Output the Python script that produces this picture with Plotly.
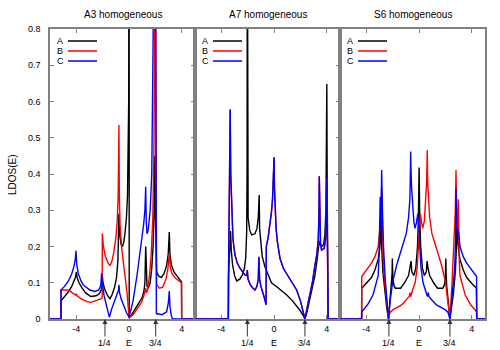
import plotly.graph_objects as go
from plotly.subplots import make_subplots

# ---------------- data (energy E, LDOS) ----------------
A3_A = [(-6, 0), (-5.17, 0), (-5.165, 0.05), (-4.9, 0.062), (-4.6, 0.075), (-4.35, 0.09), (-4.18, 0.103),
        (-4.07, 0.115), (-4.0, 0.13), (-3.94, 0.114), (-3.8, 0.1), (-3.6, 0.087), (-3.3, 0.072),
        (-2.9, 0.062), (-2.5, 0.064), (-2.25, 0.07), (-2.12, 0.08), (-2.05, 0.095), (-2.03, 0.12),
        (-1.98, 0.1), (-1.85, 0.082), (-1.65, 0.066), (-1.45, 0.056), (-1.3, 0.066), (-1.1, 0.088),
        (-0.95, 0.115), (-0.85, 0.16), (-0.79, 0.22), (-0.77, 0.29), (-0.74, 0.24), (-0.68, 0.218),
        (-0.6, 0.205), (-0.5, 0.2), (-0.4, 0.213), (-0.3, 0.24), (-0.2, 0.28), (-0.12, 0.34),
        (-0.07, 0.43), (-0.03, 0.6), (0.0, 1.5), (0.01, 0.003), (0.2, 0.012), (0.5, 0.03), (0.8, 0.047),
        (1.0, 0.06), (1.12, 0.075), (1.2, 0.1), (1.26, 0.2), (1.3, 0.12), (1.36, 0.09), (1.45, 0.085),
        (1.6, 0.1), (1.72, 0.14), (1.82, 0.2), (1.9, 0.3), (1.95, 0.45), (2.0, 0.28), (2.05, 0.16),
        (2.09, 0.13), (2.25, 0.118), (2.45, 0.115), (2.65, 0.125), (2.85, 0.148), (2.97, 0.18),
        (3.05, 0.24), (3.1, 0.18), (3.2, 0.15), (3.4, 0.13), (3.7, 0.115), (3.98, 0.102), (3.99, 0),
        (5, 0)]
A3_B = [(-6, 0), (-5.17, 0), (-5.165, 0.08), (-4.6, 0.08), (-4.3, 0.072), (-4.05, 0.066), (-4.0, 0.068),
        (-3.95, 0.064), (-3.6, 0.055), (-3.2, 0.048), (-2.9, 0.046), (-2.5, 0.05), (-2.1, 0.056),
        (-2.04, 0.06), (-2.03, 0.236), (-1.95, 0.2), (-1.8, 0.173), (-1.6, 0.155), (-1.45, 0.147),
        (-1.3, 0.16), (-1.15, 0.185), (-1.0, 0.225), (-0.9, 0.27), (-0.83, 0.34), (-0.79, 0.43),
        (-0.77, 0.535), (-0.74, 0.34), (-0.68, 0.255), (-0.56, 0.195), (-0.42, 0.155), (-0.3, 0.12),
        (-0.15, 0.07), (-0.07, 0.035), (0.0, 0.003), (0.3, 0.012), (0.6, 0.028), (0.97, 0.048),
        (1.15, 0.068), (1.22, 0.078), (1.26, 0.085), (1.31, 0.072), (1.4, 0.08), (1.55, 0.12),
        (1.68, 0.18), (1.8, 0.28), (1.88, 0.45), (1.94, 0.75), (2.0, 1.2), (2.04, 0.5), (2.06, 0.2),
        (2.09, 0.095), (2.3, 0.085), (2.55, 0.088), (2.8, 0.11), (2.95, 0.14), (3.05, 0.181),
        (3.12, 0.145), (3.25, 0.125), (3.5, 0.113), (3.97, 0.1), (3.99, 0), (5, 0)]
A3_C = [(-6, 0), (-5.17, 0), (-5.165, 0.08), (-4.9, 0.09), (-4.6, 0.105), (-4.35, 0.125), (-4.18, 0.145),
        (-4.08, 0.165), (-4.03, 0.188), (-3.97, 0.15), (-3.85, 0.125), (-3.65, 0.105), (-3.47, 0.094),
        (-3.2, 0.085), (-2.97, 0.08), (-2.6, 0.076), (-2.3, 0.08), (-2.15, 0.092), (-2.08, 0.126),
        (-2.02, 0.095), (-1.9, 0.065), (-1.7, 0.035), (-1.5, 0.005), (-1.3, 0.03), (-1.1, 0.05),
        (-0.9, 0.068), (-0.8, 0.08), (-0.77, 0.094), (-0.72, 0.072), (-0.6, 0.055), (-0.4, 0.035),
        (-0.2, 0.018), (0.0, 0.005), (0.15, 0.025), (0.3, 0.05), (0.6, 0.12), (0.9, 0.2), (1.1, 0.26),
        (1.2, 0.3), (1.26, 0.365), (1.3, 0.27), (1.36, 0.235), (1.45, 0.245), (1.6, 0.3), (1.72, 0.4),
        (1.83, 0.6), (1.92, 0.9), (1.97, 1.3), (2.04, 0.6), (2.07, 0.015), (2.5, 0.012), (2.85, 0.02),
        (2.98, 0.045), (3.05, 0.077), (3.1, 0.035), (3.2, 0.01), (3.3, 0.0), (5, 0)]

A7_A = [(-6, 0), (-3.47, 0), (-3.46, 0.12), (-3.4, 0.17), (-3.34, 0.21), (-3.3, 0.243), (-3.25, 0.19),
        (-3.15, 0.15), (-3.0, 0.12), (-2.84, 0.105), (-2.6, 0.11), (-2.4, 0.122), (-2.25, 0.14),
        (-2.15, 0.17), (-2.08, 0.24), (-2.05, 0.4), (-2.03, 1.2), (-2.01, 0.4), (-1.97, 0.28),
        (-1.85, 0.245), (-1.7, 0.232), (-1.45, 0.235), (-1.3, 0.25), (-1.2, 0.28), (-1.15, 0.31),
        (-1.13, 0.342), (-1.1, 0.25), (-1.0, 0.2), (-0.9, 0.172), (-0.7, 0.145), (-0.55, 0.13),
        (-0.2, 0.1), (0.2, 0.089), (0.6, 0.077), (0.96, 0.066), (1.4, 0.05), (1.71, 0.037), (2.0, 0.022),
        (2.2, 0.01), (2.34, 0.0), (2.5, 0.02), (2.72, 0.056), (2.9, 0.085), (3.1, 0.12), (3.25, 0.16),
        (3.35, 0.2), (3.43, 0.215), (3.5, 0.205), (3.6, 0.2), (3.75, 0.205), (3.85, 0.23), (3.93, 0.3),
        (3.97, 0.42), (4.0, 0.648), (4.03, 0.35), (4.07, 0.2), (4.1, 0), (5, 0)]
A7_C = [(-6, 0), (-3.47, 0), (-3.45, 0.15), (-3.4, 0.3), (-3.36, 0.42), (-3.33, 0.578), (-3.29, 0.4),
        (-3.22, 0.306), (-3.12, 0.22), (-2.97, 0.177), (-2.8, 0.155), (-2.59, 0.14), (-2.4, 0.13),
        (-2.2, 0.121), (-2.08, 0.12), (-2.03, 0.135), (-1.98, 0.11), (-1.8, 0.094), (-1.6, 0.085),
        (-1.45, 0.08), (-1.3, 0.09), (-1.2, 0.11), (-1.15, 0.172), (-1.1, 0.11), (-1.0, 0.09),
        (-0.9, 0.08), (-0.75, 0.06), (-0.61, 0.039), (-0.59, 0.2), (-0.45, 0.225), (-0.31, 0.26),
        (-0.2, 0.295), (-0.12, 0.33), (-0.06, 0.38), (-0.02, 0.43), (0.0, 0.446), (0.03, 0.36),
        (0.07, 0.305), (0.15, 0.25), (0.25, 0.213), (0.45, 0.167), (0.7, 0.14), (1.0, 0.122),
        (1.2, 0.113), (1.5, 0.095), (1.71, 0.08), (2.0, 0.05), (2.2, 0.02), (2.34, 0.0), (2.5, 0.03),
        (2.72, 0.066), (2.9, 0.1), (3.1, 0.149), (3.25, 0.18), (3.35, 0.22), (3.4, 0.28), (3.43, 0.394),
        (3.46, 0.26), (3.52, 0.21), (3.6, 0.19), (3.8, 0.195), (3.9, 0.22), (3.96, 0.28), (4.0, 0.388),
        (4.04, 0.25), (4.08, 0.15), (4.1, 0.0), (5, 0)]
A7_B = A7_C  # B and C coincide in the A7 panel (red hidden under blue)

S6_A = [(-6, 0), (-4.36, 0), (-4.35, 0.085), (-4.0, 0.098), (-3.6, 0.115), (-3.35, 0.135), (-3.1, 0.165),
        (-3.0, 0.19), (-2.92, 0.23), (-2.88, 0.3), (-2.84, 0.2), (-2.75, 0.13), (-2.6, 0.07),
        (-2.45, 0.03), (-2.32, 0.0), (-2.2, 0.05), (-2.1, 0.09), (-2.05, 0.125), (-2.03, 0.167),
        (-1.99, 0.11), (-1.9, 0.092), (-1.8, 0.085), (-1.4, 0.085), (-1.1, 0.1), (-0.8, 0.12),
        (-0.68, 0.14), (-0.61, 0.16), (-0.55, 0.13), (-0.4, 0.12), (-0.25, 0.14), (-0.12, 0.2),
        (-0.05, 0.28), (0.0, 0.418), (0.05, 0.28), (0.12, 0.2), (0.25, 0.14), (0.4, 0.12), (0.55, 0.13),
        (0.61, 0.16), (0.68, 0.14), (0.8, 0.12), (1.1, 0.1), (1.4, 0.085), (1.8, 0.085), (1.9, 0.092),
        (1.99, 0.11), (2.03, 0.167), (2.05, 0.125), (2.1, 0.09), (2.2, 0.05), (2.34, 0.0), (2.45, 0.03),
        (2.6, 0.07), (2.75, 0.13), (2.84, 0.2), (2.88, 0.3), (2.92, 0.23), (3.0, 0.19), (3.1, 0.165),
        (3.35, 0.135), (3.6, 0.115), (4.0, 0.098), (4.35, 0.085), (4.37, 0), (5, 0)]
S6_B = [(-6, 0), (-4.36, 0), (-4.35, 0.117), (-4.0, 0.135), (-3.6, 0.155), (-3.35, 0.172), (-3.1, 0.2),
        (-3.0, 0.24), (-2.9, 0.28), (-2.84, 0.36), (-2.78, 0.22), (-2.7, 0.14), (-2.59, 0.094),
        (-2.45, 0.04), (-2.32, 0.0), (-2.2, 0.018), (-2.0, 0.025), (-1.32, 0.039), (-0.9, 0.055),
        (-0.75, 0.062), (-0.69, 0.073), (-0.63, 0.062), (-0.5, 0.08), (-0.3, 0.1), (-0.15, 0.14),
        (-0.05, 0.2), (0.0, 0.25), (0.1, 0.29), (0.2, 0.265), (0.27, 0.25), (0.4, 0.27), (0.5, 0.32),
        (0.56, 0.37), (0.6, 0.42), (0.62, 0.466), (0.65, 0.38), (0.7, 0.33), (0.8, 0.28), (0.97, 0.236),
        (1.3, 0.195), (1.7, 0.149), (2.0, 0.103), (2.2, 0.05), (2.34, 0.0), (2.5, 0.1), (2.65, 0.2),
        (2.75, 0.3), (2.8, 0.411), (2.85, 0.3), (2.93, 0.25), (2.98, 0.33), (3.03, 0.18), (3.1, 0.12),
        (3.5, 0.066), (3.9, 0.04), (4.36, 0.02), (4.37, 0), (5, 0)]
S6_C = [(-6, 0), (-4.36, 0), (-4.35, 0.02), (-3.9, 0.04), (-3.5, 0.066), (-3.1, 0.12), (-3.03, 0.18),
        (-2.95, 0.337), (-2.9, 0.25), (-2.84, 0.411), (-2.78, 0.3), (-2.7, 0.2), (-2.55, 0.1),
        (-2.32, 0.0), (-2.2, 0.05), (-2.0, 0.103), (-1.7, 0.149), (-1.3, 0.195), (-0.97, 0.236),
        (-0.8, 0.28), (-0.7, 0.33), (-0.67, 0.38), (-0.64, 0.462), (-0.62, 0.42), (-0.58, 0.37),
        (-0.5, 0.32), (-0.4, 0.27), (-0.31, 0.25), (-0.2, 0.265), (-0.1, 0.29), (0.0, 0.25), (0.05, 0.2),
        (0.15, 0.14), (0.3, 0.1), (0.5, 0.08), (0.63, 0.062), (0.69, 0.073), (0.75, 0.062), (0.9, 0.055),
        (1.32, 0.039), (2.0, 0.025), (2.2, 0.018), (2.34, 0.0), (2.45, 0.04), (2.59, 0.094), (2.7, 0.14),
        (2.77, 0.22), (2.8, 0.358), (2.86, 0.25), (3.0, 0.24), (3.1, 0.2), (3.35, 0.172), (3.6, 0.155),
        (4.0, 0.135), (4.36, 0.117), (4.37, 0), (5, 0)]

PANEL_TITLES = ["A3 homogeneous", "A7 homogeneous", "S6 homogeneous"]
SERIES_NAMES = ["A", "B", "C"]
QUARTER_FILLING_E = [-1.83, -2.03, -2.29]
THREE_QUARTER_FILLING_E = [2.02, 2.34, 2.34]
X_TICKS = [-4, 0, 4]
X_TICK_TEXT = ["-4", "0", "4"]
Y_TICKS = [0, 0.1, 0.2, 0.3, 0.4, 0.5, 0.6, 0.7, 0.8]
Y_TICK_TEXT = ["0", "0.1", "0.2", "0.3", "0.4", "0.5", "0.6", "0.7", "0.8"]

# ---------------- styling ----------------
COLORS = ["#000000", "#ff0000", "#0000ff"]
FONT = "Liberation Sans, Arial, Helvetica, sans-serif"
FRAME = "#808080"

PANELS = [[A3_A, A3_B, A3_C], [A7_A, A7_B, A7_C], [S6_A, S6_B, S6_C]]

fig = make_subplots(rows=1, cols=3, horizontal_spacing=0)

for p, curves in enumerate(PANELS):
    for s, pts in enumerate(curves):
        fig.add_trace(go.Scatter(x=[e for e, _ in pts], y=[v for _, v in pts], mode="lines",
                                 name=SERIES_NAMES[s], line=dict(color=COLORS[s], width=1.4),
                                 showlegend=False, hoverinfo="skip"), row=1, col=p + 1)

for c in range(1, 4):
    fig.update_xaxes(range=[-6, 5], tickvals=X_TICKS, ticktext=X_TICK_TEXT, ticks="inside", ticklen=4,
                     tickcolor=FRAME, tickwidth=1, showline=True, linecolor=FRAME, linewidth=1.5,
                     mirror="ticks", showgrid=False, zeroline=False, layer="below traces",
                     automargin=False, tickfont=dict(size=9, family=FONT, color="#000"), row=1, col=c)

fig.update_yaxes(range=[0, 0.8], tickvals=Y_TICKS, ticktext=Y_TICK_TEXT, ticks="inside", ticklen=4,
                 tickcolor=FRAME, showline=True, linecolor=FRAME, linewidth=1.5, mirror="ticks",
                 showgrid=False, zeroline=False, layer="below traces", ticklabelstandoff=6,
                 automargin=False, tickfont=dict(size=9, family=FONT, color="#000"), row=1, col=1)
fig.update_yaxes(range=[0, 0.8], tickvals=Y_TICKS, side="right", ticks="inside", ticklen=4,
                 tickcolor=FRAME, showticklabels=False, showline=True, linecolor=FRAME, linewidth=1.5,
                 mirror=True, showgrid=False, zeroline=False, layer="below traces", automargin=False,
                 row=1, col=2)
fig.update_yaxes(range=[0, 0.8], ticks="", showticklabels=False, showline=True, linecolor=FRAME,
                 linewidth=1.5, mirror=True, showgrid=False, zeroline=False, layer="below traces",
                 automargin=False, row=1, col=3)

suffixes = ["", "2", "3"]
for p in range(3):
    sx = suffixes[p]
    # panel title
    fig.add_annotation(x=0.5, y=1.0517, xref=f"x{sx} domain", yref="paper", text=PANEL_TITLES[p],
                       showarrow=False, xanchor="center", yanchor="middle",
                       font=dict(size=10, family=FONT, color="#000"))
    # filling arrows
    for e, lab in [(QUARTER_FILLING_E[p], "1/4"), (THREE_QUARTER_FILLING_E[p], "3/4")]:
        fig.add_annotation(x=e, y=0, xref=f"x{sx}", yref=f"y{sx}", text=lab, showarrow=True,
                           ax=0, ay=24, arrowhead=2, arrowsize=1, arrowwidth=1, arrowcolor="#333",
                           font=dict(size=9, family=FONT, color="#000"))
    fig.add_annotation(x=0, y=0, xref=f"x{sx}", yref=f"y{sx}", text="E", showarrow=False,
                       yshift=-24, font=dict(size=9, family=FONT, color="#000"))
    # key
    for s in range(3):
        yk = (319 - (41 + 10 * s)) / 290
        fig.add_annotation(x=10 / 145, y=yk, xref=f"x{sx} domain", yref=f"y{sx} domain",
                           text=SERIES_NAMES[s], showarrow=False, xanchor="center", yanchor="middle",
                           font=dict(size=9, family=FONT, color="#000"))
        fig.add_shape(type="line", xref=f"x{sx} domain", yref=f"y{sx} domain", x0=18 / 145,
                      x1=47 / 145, y0=yk, y1=yk, line=dict(color=COLORS[s], width=1.5))

fig.add_annotation(x=(12 - 50) / 435, y=(319 - 175) / 290, xref="paper", yref="paper", text="LDOS(E)",
                   textangle=-90, showarrow=False, xanchor="center", yanchor="middle",
                   font=dict(size=10, family=FONT, color="#000"))

fig.update_layout(width=500, height=350, margin=dict(l=50, r=15, t=29, b=31, autoexpand=False),
                  paper_bgcolor="white", plot_bgcolor="white", showlegend=False,
                  font=dict(family=FONT, size=9, color="#000"))

fig.write_html("out.html", config={"displayModeBar": False},
               post_script="document.body.style.margin='0px';")
